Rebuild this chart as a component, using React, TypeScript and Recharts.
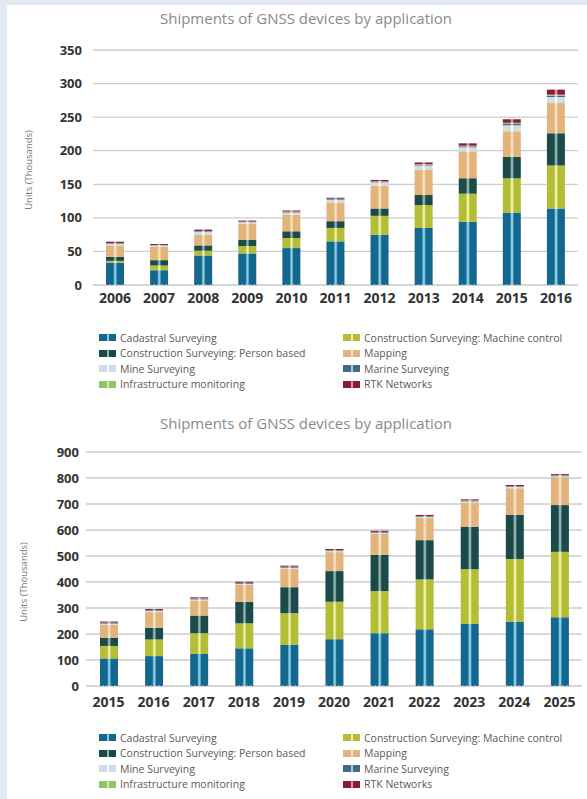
import React from 'react';
import { BarChart, Bar, XAxis, YAxis, CartesianGrid, Legend, Label } from 'recharts';

// ---- series definitions ----
const seriesKeys = ['cadastral', 'machine', 'person', 'mapping', 'mine', 'marine', 'infra', 'rtk'];
const seriesNames = [
  'Cadastral Surveying',
  'Construction Surveying: Machine control',
  'Construction Surveying: Person based',
  'Mapping',
  'Mine Surveying',
  'Marine Surveying',
  'Infrastructure monitoring',
  'RTK Networks',
];
const seriesColors = ['#15688d', '#b4bd36', '#1c4a4b', '#e2b47c', '#cfdde4', '#3e6c86', '#8cc56a', '#8b1c34'];
const seriesHighlights = ['#86cdea', '#eef0a8', '#8fb3ae', '#f7e0c0', '#f3f8fa', '#a6c8da', '#d2ecbf', '#de95a2'];

// ---- chart 1: 2006-2016 ----
const years1 = ['2006', '2007', '2008', '2009', '2010', '2011', '2012', '2013', '2014', '2015', '2016'];
const cadastral1 = [33, 22, 44, 47, 55, 65, 75, 85, 94, 108, 114];
const machine1 = [3, 7, 7, 11, 15, 20, 28, 34, 42, 51, 64];
const person1 = [6, 8, 8, 9, 10, 10, 11, 15, 23, 32, 48];
const mapping1 = [17, 20, 16, 24, 25, 28, 34, 38, 40, 38, 45];
const mine1 = [2, 1.5, 4, 2.5, 3, 4, 5, 6, 6, 9, 9];
const marine1 = [1, 0.5, 1, 0.5, 1, 1, 1, 1, 1.5, 2, 2];
const infra1 = [0.5, 0.5, 0.5, 0.5, 0.5, 0.5, 0.5, 1, 1, 1.5, 1.5];
const rtk1 = [2, 1.5, 2, 1.5, 1.5, 1.5, 2, 2.5, 3.5, 5.5, 7.5];
const yTicks1 = [0, 50, 100, 150, 200, 250, 300, 350];

// ---- chart 2: 2015-2025 ----
const years2 = ['2015', '2016', '2017', '2018', '2019', '2020', '2021', '2022', '2023', '2024', '2025'];
const cadastral2 = [106, 115, 123, 145, 158, 180, 203, 218, 238, 247, 264];
const machine2 = [48, 64, 80, 96, 122, 144, 162, 192, 211, 241, 252];
const person2 = [32, 45, 68, 83, 100, 118, 139, 151, 164, 170, 180];
const mapping2 = [50, 60, 58, 65, 71, 73, 81, 85, 93, 103, 107];
const mine2 = [4, 4, 4, 4, 4, 4, 4, 4, 4, 4, 4];
const marine2 = [3, 3, 3, 3, 3, 3, 3, 3, 3, 3, 3];
const infra2 = [1, 1, 1, 1, 1, 1, 1, 1, 1, 1, 1];
const rtk2 = [4, 4, 4, 4, 4, 4, 4, 4, 4, 4, 4];
const yTicks2 = [0, 100, 200, 300, 400, 500, 600, 700, 800, 900];

function buildData(years: string[], cols: number[][]) {
  return years.map((y, i) => {
    const row: Record<string, any> = { year: y };
    seriesKeys.forEach((k, j) => {
      row[k] = cols[j][i];
    });
    return row;
  });
}

const data1 = buildData(years1, [cadastral1, machine1, person1, mapping1, mine1, marine1, infra1, rtk1]);
const data2 = buildData(years2, [cadastral2, machine2, person2, mapping2, mine2, marine2, infra2, rtk2]);

const FONT = "'Open Sans', 'DejaVu Sans', sans-serif";

const LegendBox = () => (
  <div
    style={{
      height: 62,
      paddingLeft: 99,
      boxSizing: 'border-box',
      display: 'grid',
      gridTemplateColumns: '244px 240px',
      gridAutoRows: '15.5px',
      fontFamily: FONT,
      fontSize: 10.5,
      color: '#5a5a5a',
    }}
  >
    {seriesNames.map((n, i) => (
      <div key={n} style={{ display: 'flex', alignItems: 'center', whiteSpace: 'nowrap' }}>
        <svg width={17} height={7} style={{ marginRight: 4, flex: 'none' }}>
          <rect x={0} y={0} width={8} height={7} fill={seriesColors[i]} />
          <rect x={8} y={0} width={2} height={7} fill={seriesHighlights[i]} />
          <rect x={10} y={0} width={7} height={7} fill={seriesColors[i]} />
        </svg>
        <span>{n}</span>
      </div>
    ))}
  </div>
);

const Gradients = ({ prefix }: { prefix: string }) => (
  <defs>
    {seriesKeys.map((k, i) => (
      <linearGradient key={k} id={`${prefix}-${k}`} x1="0" y1="0" x2="1" y2="0">
        <stop offset="0%" stopColor={seriesColors[i]} />
        <stop offset="40%" stopColor={seriesColors[i]} />
        <stop offset="48%" stopColor={seriesHighlights[i]} />
        <stop offset="54%" stopColor={seriesHighlights[i]} />
        <stop offset="62%" stopColor={seriesColors[i]} />
        <stop offset="100%" stopColor={seriesColors[i]} />
      </linearGradient>
    ))}
  </defs>
);

const makeYLabel = (cx: number, cy: number) => () => (
  <text
    x={cx}
    y={cy}
    transform={`rotate(-90 ${cx} ${cy})`}
    textAnchor="middle"
    dominantBaseline="central"
    fontFamily={FONT}
    fontSize={9.5}
    fill="#777"
  >
    Units (Thousands)
  </text>
);

type ChartProps = {
  data: any[];
  prefix: string;
  ticks: number[];
  max: number;
  height: number;
  margin: { top: number; right: number; left: number; bottom: number };
  yWidth: number;
  yTickMargin: number;
  xTickMargin: number;
  xHeight: number;
  labelX: number;
  labelY: number;
};

const StackChart = (p: ChartProps) => (
  <BarChart width={587} height={p.height} data={p.data} margin={p.margin} barSize={18}>
    <Gradients prefix={p.prefix} />
    <CartesianGrid vertical={false} stroke="#cdcdcd" strokeWidth={1.3} />
    <XAxis
      dataKey="year"
      interval={0}
      height={p.xHeight}
      tickLine={false}
      axisLine={{ stroke: '#c8ccd0', strokeDasharray: '2 2' }}
      tickMargin={p.xTickMargin}
      tick={{ fontFamily: FONT, fontSize: 14, fontWeight: 700, fill: '#333' }}
    />
    <YAxis
      width={p.yWidth}
      domain={[0, p.max]}
      ticks={p.ticks}
      interval={0}
      tickLine={false}
      axisLine={false}
      tickMargin={p.yTickMargin}
      tick={{ fontFamily: FONT, fontSize: 13, fontWeight: 700, fill: '#333' }}
    >
      <Label content={makeYLabel(p.labelX, p.labelY)} />
    </YAxis>
    <Legend
      verticalAlign="bottom"
      content={() => <LegendBox />}
      wrapperStyle={{ left: 0, width: 587 }}
    />
    {seriesKeys.map((k, i) => (
      <Bar
        key={k}
        dataKey={k}
        name={seriesNames[i]}
        stackId="a"
        fill={`url(#${p.prefix}-${k})`}
        isAnimationActive={false}
      />
    ))}
  </BarChart>
);

const titleStyle = (top: number): React.CSSProperties => ({
  position: 'absolute',
  top,
  left: 0,
  width: 612,
  textAlign: 'center',
  fontFamily: FONT,
  fontSize: 15,
  color: '#8a8a8a',
  lineHeight: '18px',
});

export default function App() {
  return (
    <div style={{ position: 'absolute', left: 0, top: 0, width: 587, height: 799, background: '#e3eaf2', overflow: 'hidden' }}>
      <div style={{ position: 'absolute', left: 7, top: 5, width: 580, height: 794, background: '#ffffff' }} />
      <div style={titleStyle(9)}>Shipments of GNSS devices by application</div>
      <div style={{ position: 'absolute', left: 0, top: 0 }}>
        <StackChart
          data={data1}
          prefix="c1"
          ticks={yTicks1}
          max={350}
          height={400}
          margin={{ top: 50, right: 9, left: 0, bottom: 8 }}
          yWidth={93}
          yTickMargin={5}
          xTickMargin={2}
          xHeight={45}
          labelX={28}
          labelY={170}
        />
      </div>
      <div style={titleStyle(414)}>Shipments of GNSS devices by application</div>
      <div style={{ position: 'absolute', left: 0, top: 400 }}>
        <StackChart
          data={data2}
          prefix="c2"
          ticks={yTicks2}
          max={900}
          height={399}
          margin={{ top: 52, right: 5, left: 0, bottom: 7 }}
          yWidth={86}
          yTickMargin={1}
          xTickMargin={5}
          xHeight={44}
          labelX={23}
          labelY={182}
        />
      </div>
    </div>
  );
}
